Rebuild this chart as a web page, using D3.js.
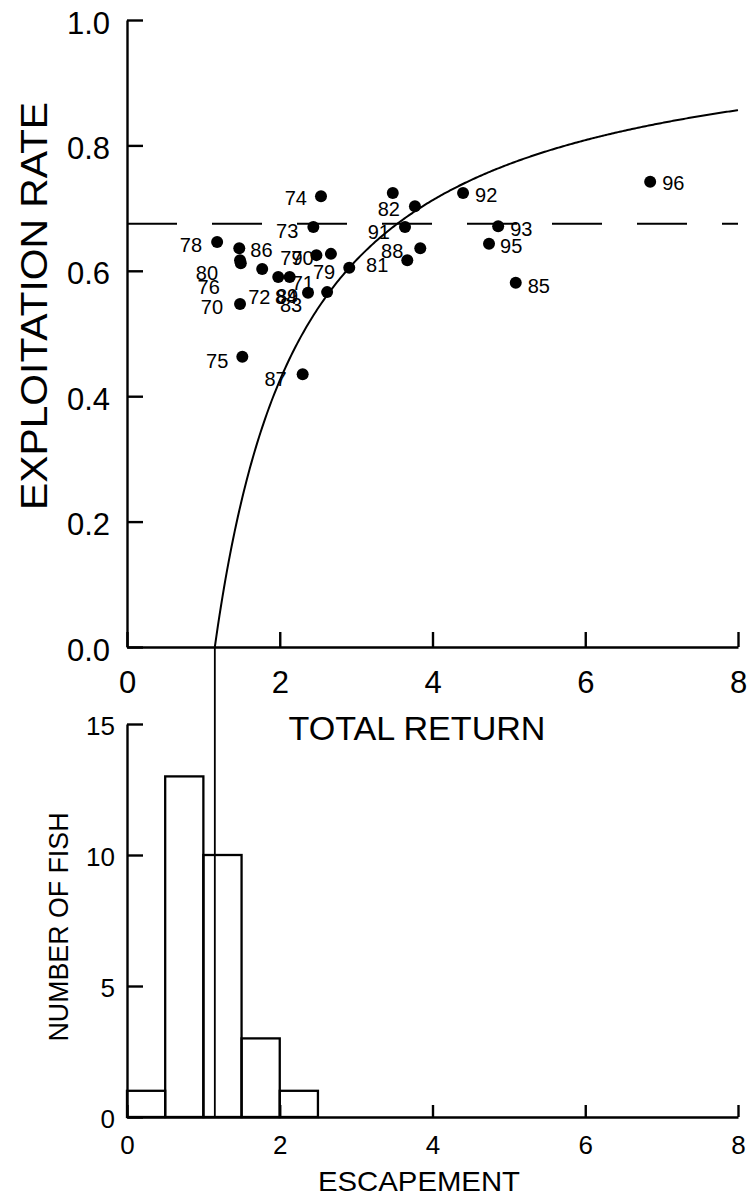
<!DOCTYPE html>
<html>
<head>
<meta charset="utf-8">
<script src="https://cdn.jsdelivr.net/npm/d3@7"></script>
<style>
  html, body { margin: 0; padding: 0; background: #fff; }
  svg { display: block; font-family: "Liberation Sans", Arial, Helvetica, sans-serif; }
</style>
</head>
<body>
<svg id="chart" width="749" height="1196"></svg>
<script>
// ---------------- data ----------------
const years = ["70","71","72","73","74","75","76","77","78","79","80","81","82","83","84","85","86","87","88","89","90","91","92","93","94","95","96"];
const totalReturn = [1.48,2.13,1.98,2.44,2.54,1.51,1.49,1.77,1.18,2.91,1.48,3.67,3.77,2.37,2.62,5.09,1.47,2.30,3.84,2.67,2.48,3.64,4.40,4.86,3.48,4.74,6.85];
const exploitRate = [0.547,0.590,0.590,0.670,0.719,0.463,0.612,0.603,0.646,0.605,0.617,0.617,0.703,0.565,0.566,0.581,0.636,0.435,0.636,0.627,0.625,0.670,0.724,0.671,0.724,0.643,0.742];
// label placement relative to each dot: [dx, dy, anchor]  (null = label hidden in original)
const labelPlacement = [
  [-17,10,"end"],[2,13,"start"],[-30,27,"start"],[-15,11,"end"],[-14,9,"end"],
  [-14,11,"end"],[-21,31,"end"],[18,-4,"start"],[-15,10,"end"],[-14,11,"end"],
  [-22,20,"end"],[-19,12,"end"],[-15,10,"end"],[-28,19,"start"],[-52,12,"start"],
  [12,10,"start"],[11,9,"start"],[-16,12,"end"],[-17,10,"end"],[-55,49,"start"],
  [-25,10,"start"],[-15,12,"end"],[12,9,"start"],[12,10,"start"],null,
  [11,9,"start"],[12,8,"start"]
];
const targetRate = 0.675;          // dashed horizontal line
const optimalEscapement = 1.15;    // curve u = 1 - E/R, and vertical line
const binStart = [0,0.5,1,1.5,2,2.5,3,3.5,4,4.5,5,5.5,6,6.5,7,7.5];
const binCount = [1,13,10,3,1,0,0,0,0,0,0,0,0,0,0,0];
const binWidth = 0.5;
const xTicks = [0,2,4,6,8];
const yTopTicks = [0,0.2,0.4,0.6,0.8,1.0];
const yBotTicks = [0,5,10,15];

// ---------------- layout ----------------
const svg = d3.select("#chart");
const x = d3.scaleLinear().domain([0,8]).range([127,738]);
const yTop = d3.scaleLinear().domain([0,1]).range([647,20]);
const yBot = d3.scaleLinear().domain([0,15]).range([1117,724]);

const AX = 2.4;

// ---- upper panel ----
const curvePts = d3.range(optimalEscapement, 8.0001, 0.02).map(R => [R, 1 - optimalEscapement / R]);
curvePts.push([8, 1 - optimalEscapement / 8]);
svg.append("path")
  .attr("d", d3.line().x(d => x(d[0])).y(d => yTop(d[1]))(curvePts))
  .attr("fill","none").attr("stroke","#000").attr("stroke-width",2);

svg.append("line")
  .attr("x1", x(0)).attr("x2", x(8))
  .attr("y1", yTop(targetRate)).attr("y2", yTop(targetRate))
  .attr("stroke","#000").attr("stroke-width",2).attr("stroke-dasharray","50,35");

const pts = years.map((yr,i) => ({yr, r: totalReturn[i], u: exploitRate[i], lp: labelPlacement[i]}));
svg.append("g").selectAll("text").data(pts.filter(d => d.lp)).join("text")
  .attr("x", d => x(d.r) + d.lp[0])
  .attr("y", d => yTop(d.u) + d.lp[1])
  .attr("text-anchor", d => d.lp[2])
  .attr("font-size", 20)
  .attr("fill","#000")
  .text(d => d.yr);

svg.append("g").selectAll("circle").data(pts).join("circle")
  .attr("cx", d => x(d.r)).attr("cy", d => yTop(d.u)).attr("r", 6)
  .attr("fill","#000");

const gyTop = svg.append("g").attr("transform", `translate(${x(0)},0)`)
  .call(d3.axisLeft(yTop).tickValues(yTopTicks).tickSize(-16).tickSizeOuter(0)
        .tickPadding(17).tickFormat(d3.format(".1f")));
const gxTop = svg.append("g").attr("transform", `translate(0,${yTop(0)})`)
  .call(d3.axisBottom(x).tickValues(xTicks).tickSize(-15).tickSizeOuter(0)
        .tickPadding(24).tickFormat(d3.format("d")));

// ---- lower panel ----
const bins = binStart.map((b,i) => ({x0: b, x1: b + binWidth, n: binCount[i]})).filter(d => d.n > 0);
svg.append("g").selectAll("rect").data(bins).join("rect")
  .attr("x", d => x(d.x0)).attr("width", d => x(d.x1) - x(d.x0))
  .attr("y", d => yBot(d.n)).attr("height", d => yBot(0) - yBot(d.n))
  .attr("fill","none").attr("stroke","#000").attr("stroke-width",2.3);

svg.append("line")
  .attr("x1", x(optimalEscapement)).attr("x2", x(optimalEscapement))
  .attr("y1", yTop(0)).attr("y2", yBot(0))
  .attr("stroke","#000").attr("stroke-width",1.8);

const gyBot = svg.append("g").attr("transform", `translate(${x(0)},0)`)
  .call(d3.axisLeft(yBot).tickValues(yBotTicks).tickSize(-16).tickSizeOuter(0)
        .tickPadding(12).tickFormat(d3.format("d")));
const gxBot = svg.append("g").attr("transform", `translate(0,${yBot(0)})`)
  .call(d3.axisBottom(x).tickValues(xTicks).tickSize(-12).tickSizeOuter(0)
        .tickPadding(19).tickFormat(d3.format("d")));

[gyTop, gxTop, gyBot, gxBot].forEach(g => {
  g.attr("font-family", null);
  g.select(".domain").attr("stroke","#000").attr("stroke-width",AX);
  g.selectAll(".tick line").attr("stroke","#000").attr("stroke-width",AX);
  g.selectAll(".tick text").attr("fill","#000");
});
gyTop.selectAll(".tick text").attr("font-size",31).attr("dy","0.42em");
gxTop.selectAll(".tick text").attr("font-size",31);
gyBot.selectAll(".tick text").attr("font-size",26).attr("dy","0.42em");
gxBot.selectAll(".tick text").attr("font-size",26);

svg.append("text").attr("transform","translate(47,306) rotate(-90)")
  .attr("text-anchor","middle").attr("font-size",37)
  .attr("textLength",408).attr("lengthAdjust","spacingAndGlyphs")
  .text("EXPLOITATION RATE");
svg.append("text").attr("x",417).attr("y",740)
  .attr("text-anchor","middle").attr("font-size",34)
  .attr("textLength",257).attr("lengthAdjust","spacingAndGlyphs")
  .text("TOTAL RETURN");
svg.append("text").attr("transform","translate(68,927) rotate(-90)")
  .attr("text-anchor","middle").attr("font-size",27)
  .attr("textLength",229).attr("lengthAdjust","spacingAndGlyphs")
  .text("NUMBER OF FISH");
svg.append("text").attr("x",419).attr("y",1191)
  .attr("text-anchor","middle").attr("font-size",28)
  .attr("textLength",202).attr("lengthAdjust","spacingAndGlyphs")
  .text("ESCAPEMENT");
</script>
</body>
</html>
